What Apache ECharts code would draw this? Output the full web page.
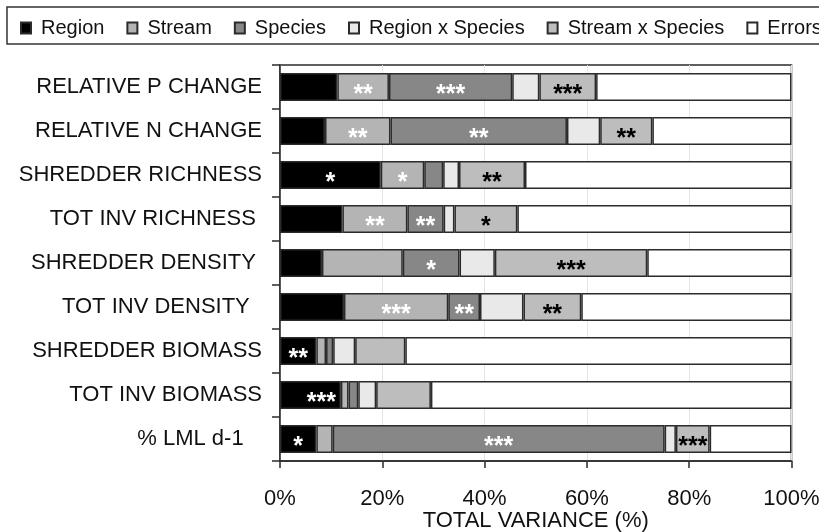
<!DOCTYPE html>
<html>
<head>
<meta charset="utf-8">
<script src="https://cdn.jsdelivr.net/npm/echarts@6/dist/echarts.min.js"></script>
<style>
  html, body { margin: 0; padding: 0; background: #ffffff; }
  #chart { width: 819px; height: 532px; }
</style>
</head>
<body>
<div id="chart"></div>
<script>
// Variance partitioning per response variable (percent of total variance)
const categories = [
  'RELATIVE P CHANGE',
  'RELATIVE N CHANGE',
  'SHREDDER RICHNESS',
  'TOT INV RICHNESS ',
  'SHREDDER DENSITY ',
  'TOT INV DENSITY  ',
  'SHREDDER BIOMASS',
  'TOT INV BIOMASS',
  '% LML d-1   '
];

const seriesNames = ['Region', 'Stream', 'Species', 'Region x Species', 'Stream x Species', 'Errors'];

const region         = [11.2,  8.8, 19.7, 12.2,  8.2, 12.5,  7.1, 11.9,  7.1];
const stream         = [10.1, 12.8,  8.5, 12.7, 15.8, 20.4,  1.9,  1.5,  3.2];
const species        = [24.1, 34.5,  3.7,  7.1, 11.1,  6.2,  1.4,  1.9, 64.9];
const regionXSpecies = [ 5.3,  6.5,  3.1,  2.1,  6.9,  8.5,  4.3,  3.5,  2.2];
const streamXSpecies = [11.1, 10.2, 12.9, 12.3, 29.8, 11.3,  9.8, 10.7,  6.6];
const errors         = [38.2, 27.2, 52.1, 53.6, 28.2, 41.1, 75.5, 70.5, 16.0];

// Significance marks for each component
const sigRegion         = ['',    '',   '*',  '',   '',    '',    '**', '***', '*'];
const sigStream         = ['**',  '**', '*',  '**', '',    '***', '',   '',    ''];
const sigSpecies        = ['***', '**', '',   '**', '*',   '**',  '',   '',    '***'];
const sigRegionXSpecies = ['',    '',   '',   '',   '',    '',    '',   '',    ''];
const sigStreamXSpecies = ['***', '**', '**', '*',  '***', '**',  '',   '',    '***'];
const sigErrors         = ['',    '',   '',   '',   '',    '',    '',   '',    ''];

const xTicks = [0, 20, 40, 60, 80, 100];

const values = [region, stream, species, regionXSpecies, streamXSpecies, errors];
const marks  = [sigRegion, sigStream, sigSpecies, sigRegionXSpecies, sigStreamXSpecies, sigErrors];
const fills  = ['#000000', '#b4b4b4', '#878787', '#e9e9e9', '#bdbdbd', '#ffffff'];
const markColors = ['#ffffff', '#ffffff', '#ffffff', '#000000', '#000000', '#000000'];

const FONT = '"Liberation Sans", Arial, Helvetica, sans-serif';

const series = values.map((vals, s) => ({
  name: seriesNames[s],
  type: 'bar',
  stack: 'total',
  barWidth: 28,
  itemStyle: { color: fills[s], borderColor: '#2b2b2b', borderWidth: 1.5 },
  emphasis: { disabled: true },
  data: vals.map((v, i) => {
    const item = { value: v };
    const m = marks[s][i];
    item.label = {
      show: m !== '',
      formatter: m,
      position: (s === 0 && i === 7) ? 'insideRight' : 'inside',
      color: markColors[s],
      fontFamily: FONT,
      fontSize: 25,
      fontWeight: 'bold',
      offset: [0, 8]
    };
    return item;
  })
}));

const chart = echarts.init(document.getElementById('chart'), null, { renderer: 'canvas' });
chart.setOption({
  animation: false,
  backgroundColor: '#ffffff',
  legend: {
    data: seriesNames,
    left: 7,
    top: 7,
    width: 1000,
    orient: 'horizontal',
    icon: 'rect',
    itemWidth: 10,
    itemHeight: 11,
    itemGap: 22,
    padding: [11, 12, 6, 13],
    borderColor: '#333333',
    borderWidth: 1.5,
    textStyle: { fontFamily: FONT, fontSize: 20, color: '#111111', padding: [0, 0, 0, 5] }
  },
  grid: {
    left: 280,
    right: 27.5,
    top: 65,
    bottom: 71,
    show: true,
    borderColor: '#2b2b2b',
    borderWidth: 1.5,
    containLabel: false,
    outerBoundsMode: 'none'
  },
  xAxis: {
    type: 'value',
    min: 0,
    max: 100,
    interval: 20,
    name: 'TOTAL VARIANCE (%)',
    nameLocation: 'middle',
    nameGap: 49,
    nameMoveOverlap: false,
    nameTextStyle: { fontFamily: FONT, fontSize: 22, color: '#111111' },
    axisLine: { show: true, lineStyle: { color: '#2b2b2b', width: 1.5 } },
    axisTick: { show: true, length: 7, lineStyle: { color: '#2b2b2b', width: 1.5 } },
    axisLabel: {
      margin: 27,
      fontFamily: FONT,
      fontSize: 22,
      color: '#111111',
      formatter: v => (xTicks.includes(v) ? v + '%' : '')
    },
    splitLine: { show: true, lineStyle: { color: '#e4e4e4', width: 1 } }
  },
  yAxis: {
    type: 'category',
    data: categories,
    inverse: true,
    axisLine: { show: true, lineStyle: { color: '#2b2b2b', width: 1.5 } },
    axisTick: { show: true, length: 8, lineStyle: { color: '#2b2b2b', width: 1.5 } },
    axisLabel: { margin: 18, fontFamily: FONT, fontSize: 22, color: '#111111' },
    splitLine: { show: false }
  },
  series: series
});
</script>
</body>
</html>
